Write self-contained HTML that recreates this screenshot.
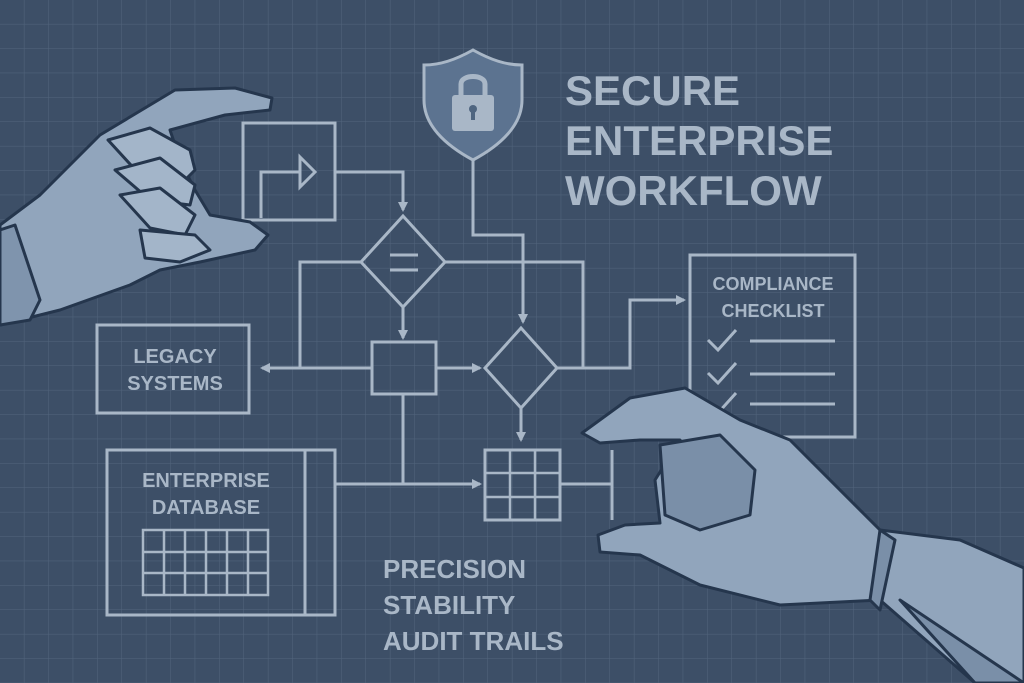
<!DOCTYPE html>
<html><head><meta charset="utf-8"><style>
html,body{margin:0;padding:0;background:#3d4f67;}
svg{display:block}
text{font-family:"Liberation Sans",sans-serif;font-weight:bold;fill:#a9b7c7}
</style></head><body>
<svg width="1024" height="683" viewBox="0 0 1024 683" xmlns="http://www.w3.org/2000/svg">
<defs>
<pattern id="g" width="24.4" height="24.4" patternUnits="userSpaceOnUse" x="0" y="0">
<path d="M24.4 0V24.4H0" fill="none" stroke="#52657d" stroke-width="1"/>
</pattern>
<marker id="a" markerWidth="10" markerHeight="10" refX="8" refY="5" orient="auto" markerUnits="userSpaceOnUse"><path d="M0 0L10 5L0 10Z" fill="#a9b7c7"/></marker>
</defs>
<rect width="1024" height="683" fill="#3d4f67"/>
<rect width="1024" height="683" fill="url(#g)"/>
<g fill="none" stroke="#a9b7c7" stroke-width="3">
<rect x="243" y="123" width="92" height="97"/>
<path d="M261 218V172H300"/>
<path d="M300 157L315 172L300 187Z"/>
<path d="M335 172H403V210" marker-end="url(#a)"/>
<path d="M403 216L445 262L403 307L361 262Z"/>
<path d="M390 255H418M390 270H418" stroke-width="3"/>
<path d="M361 262H300V368"/>
<path d="M445 262H583V368"/>
<path d="M403 307V338" marker-end="url(#a)"/>
<rect x="372" y="342" width="64" height="52"/>
<path d="M372 368H262" marker-end="url(#a)"/>
<path d="M436 368H480" marker-end="url(#a)"/>
<path d="M521 328L557 368L521 408L485 368Z"/>
<path d="M473 160V235H523V322" marker-end="url(#a)"/>
<path d="M557 368H630V300H684" marker-end="url(#a)"/>
<path d="M521 408V440" marker-end="url(#a)"/>
<rect x="485" y="450" width="75" height="70"/>
<path d="M510 450V520M535 450V520M485 473H560M485 497H560" stroke-width="2.5"/>
<path d="M403 394V484"/>
<path d="M335 484H480" marker-end="url(#a)"/>
<path d="M560 484H612M612 450V520"/>
<rect x="97" y="325" width="152" height="88"/>
<rect x="107" y="450" width="228" height="165"/>
<path d="M305 450V615"/>
<rect x="143" y="530" width="125" height="65" stroke-width="2.5"/>
<path d="M164 530V595M185 530V595M206 530V595M227 530V595M248 530V595M143 552H268M143 573H268" stroke-width="2.5"/>
<rect x="690" y="255" width="165" height="182"/>
<path d="M708 340L718 350L736 330M708 373L718 383L736 363M708 403L718 413L736 393"/>
<path d="M750 341H835M750 374H835M750 404H835"/>
</g>
<!-- shield -->
<path d="M473 50C455 60 440 65 424 65V100C424 125 445 145 473 160C501 145 522 125 522 100V65C506 65 491 60 473 50Z" fill="#5c7390" stroke="#a9b7c7" stroke-width="3"/>
<path d="M461 96V84C461 74 485 74 485 84V96" fill="none" stroke="#a9b7c7" stroke-width="5"/>
<rect x="452" y="95" width="42" height="36" rx="3" fill="#a9b7c7"/>
<circle cx="473" cy="109" r="4" fill="#4f6580"/><rect x="471" y="110" width="4" height="10" fill="#4f6580"/>
<text x="565" y="105" font-size="42">SECURE</text>
<text x="565" y="155" font-size="42">ENTERPRISE</text>
<text x="565" y="205" font-size="42">WORKFLOW</text>
<text x="175" y="363" font-size="20" text-anchor="middle">LEGACY</text>
<text x="175" y="390" font-size="20" text-anchor="middle">SYSTEMS</text>
<text x="206" y="487" font-size="20" text-anchor="middle">ENTERPRISE</text>
<text x="206" y="514" font-size="20" text-anchor="middle">DATABASE</text>
<text x="773" y="290" font-size="18" text-anchor="middle">COMPLIANCE</text>
<text x="773" y="317" font-size="18" text-anchor="middle">CHECKLIST</text>
<text x="383" y="578" font-size="26">PRECISION</text>
<text x="383" y="614" font-size="26">STABILITY</text>
<text x="383" y="650" font-size="26">AUDIT TRAILS</text>
<!-- left hand -->
<g fill="#91a5bc" stroke="#25364d" stroke-width="3" stroke-linejoin="round">
<path d="M0 225L40 195L100 135L175 90L235 88L272 98L270 110L225 115L170 130L180 160L195 190L210 215L250 222L268 235L255 250L200 262L160 270L130 285L60 310L20 320L0 325Z"/>
<path d="M108 140L150 128L190 150L195 170L180 185L140 175Z" fill="#a3b5c9"/>
<path d="M115 170L160 158L195 185L190 205L150 200Z" fill="#a3b5c9"/>
<path d="M120 195L160 188L195 215L185 235L150 228Z" fill="#a3b5c9"/>
<path d="M140 230L195 235L210 250L180 262L145 258Z" fill="#a3b5c9"/>
<path d="M0 230L15 225L40 300L30 320L0 325Z" fill="#7f94ad"/>
</g>
<!-- right hand -->
<g fill="#91a5bc" stroke="#25364d" stroke-width="3" stroke-linejoin="round">
<path d="M582 433L630 398L685 388L740 420L790 440L880 530L960 540L1024 568V683H975L880 600L780 605L700 585L640 555L600 552L598 535L625 525L660 523L655 480L680 440L640 440L600 443Z"/>
<path d="M660 445L720 435L755 470L750 515L700 530L665 515Z" fill="#7a8fa8"/>
<path d="M880 530L870 600L880 610L895 540Z" fill="#7a8fa8"/>
<path d="M900 600L1024 683H975Z" fill="#7a8fa8"/>
</g>
</svg>
</body></html>
